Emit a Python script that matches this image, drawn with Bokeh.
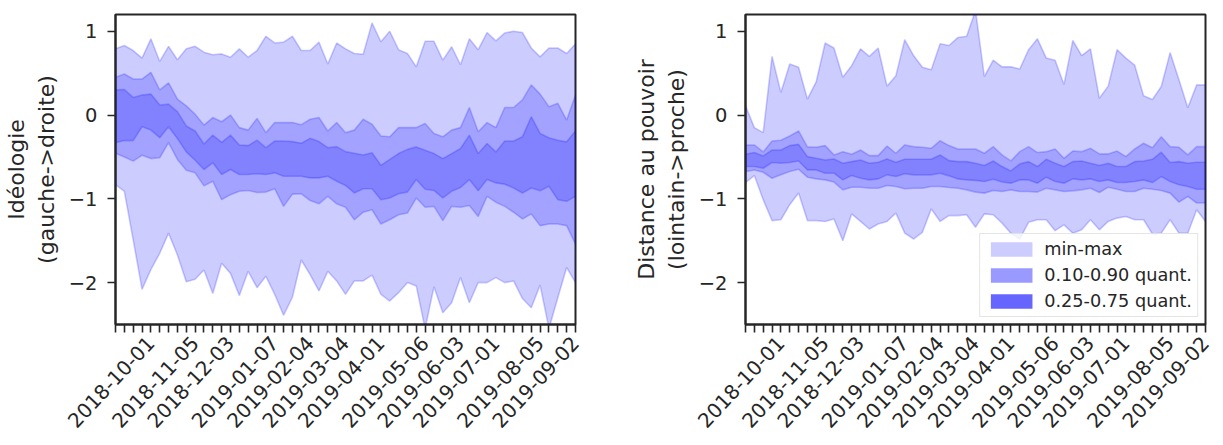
import math
from bokeh.plotting import figure
from bokeh.models import Range1d, FixedTicker, Legend, LegendItem, ColumnDataSource
from bokeh.layouts import row
from bokeh.embed import file_html
from bokeh.resources import INLINE

weeks = [
    "2018-09-03", "2018-09-10", "2018-09-17", "2018-09-24", "2018-10-01", "2018-10-08",
    "2018-10-15", "2018-10-22", "2018-10-29", "2018-11-05", "2018-11-12", "2018-11-19",
    "2018-11-26", "2018-12-03", "2018-12-10", "2018-12-17", "2018-12-24", "2018-12-31",
    "2019-01-07", "2019-01-14", "2019-01-21", "2019-01-28", "2019-02-04", "2019-02-11",
    "2019-02-18", "2019-02-25", "2019-03-04", "2019-03-11", "2019-03-18", "2019-03-25",
    "2019-04-01", "2019-04-08", "2019-04-15", "2019-04-22", "2019-04-29", "2019-05-06",
    "2019-05-13", "2019-05-20", "2019-05-27", "2019-06-03", "2019-06-10", "2019-06-17",
    "2019-06-24", "2019-07-01", "2019-07-08", "2019-07-15", "2019-07-22", "2019-07-29",
    "2019-08-05", "2019-08-12", "2019-08-19", "2019-08-26", "2019-09-02",
]
tick_labels = ["2018-10-01", "2018-11-05", "2018-12-03", "2019-01-07", "2019-02-04",
               "2019-03-04", "2019-04-01", "2019-05-06", "2019-06-03", "2019-07-01",
               "2019-08-05", "2019-09-02"]

# --- Idéologie (left panel)
ideo_min = [-0.83, -0.91, -1.49, -2.08, -1.845, -1.65, -1.41, -1.67, -1.99, -1.96,
            -1.85, -2.13, -1.77, -1.89, -2.155, -1.865, -2.06, -1.925, -2.14, -2.39,
            -2.175, -1.73, -1.905, -2.10, -1.865, -1.98, -2.14, -1.98, -1.98, -1.91,
            -2.14, -2.22, -2.12, -2.00, -2.04, -2.55, -2.05, -2.36, -2.24, -1.94,
            -2.24, -2.00, -2.00, -1.94, -2.00, -1.98, -2.19, -2.30, -2.03, -2.55,
            -2.18, -1.82, -2.00]
ideo_q10 = [-0.456, -0.50, -0.55, -0.48, -0.52, -0.51, -0.33, -0.53, -0.66, -0.69,
            -0.845, -0.79, -1.01, -0.95, -0.91, -0.90, -0.925, -0.92, -0.88, -1.09,
            -0.944, -0.94, -1.02, -1.06, -0.97, -1.06, -1.10, -1.25, -1.16, -1.13,
            -1.30, -1.25, -1.19, -1.17, -0.99, -1.10, -1.09, -1.26, -1.09, -1.10,
            -1.08, -1.21, -0.97, -1.04, -1.09, -1.16, -1.24, -1.18, -1.32, -1.30,
            -1.30, -1.32, -1.54]
ideo_q25 = [-0.33, -0.305, -0.305, -0.14, -0.18, -0.27, -0.14, -0.28, -0.44, -0.54,
            -0.65, -0.57, -0.71, -0.65, -0.71, -0.71, -0.70, -0.71, -0.69, -0.73,
            -0.73, -0.73, -0.75, -0.75, -0.73, -0.79, -0.84, -0.93, -0.88, -0.88,
            -1.01, -0.99, -0.94, -0.92, -0.77, -0.885, -0.90, -0.99, -0.91, -0.865,
            -0.77, -0.905, -0.77, -0.81, -0.825, -0.87, -0.93, -0.87, -0.905, -0.85,
            -1.01, -1.03, -0.97]
ideo_q75 = [0.30, 0.305, 0.21, 0.24, 0.25, 0.12, 0.13, 0.04, -0.13, -0.19,
            -0.345, -0.24, -0.325, -0.24, -0.357, -0.365, -0.30, -0.39, -0.31, -0.31,
            -0.317, -0.337, -0.278, -0.317, -0.39, -0.377, -0.437, -0.456, -0.476, -0.45,
            -0.60, -0.53, -0.46, -0.41, -0.38, -0.42, -0.46, -0.52, -0.46, -0.40,
            -0.24, -0.46, -0.34, -0.44, -0.31, -0.31, -0.26, -0.02, -0.22, -0.27,
            -0.30, -0.32, -0.19]
ideo_q90 = [0.45, 0.49, 0.43, 0.43, 0.51, 0.30, 0.385, 0.19, 0.11, 0.01,
            -0.12, -0.03, -0.08, 0.0, -0.15, -0.18, -0.04, -0.21, -0.09, -0.09,
            -0.09, -0.115, -0.05, -0.03, -0.19, -0.09, -0.21, -0.18, -0.05, -0.11,
            -0.25, -0.26, -0.15, -0.15, -0.15, -0.10, -0.22, -0.26, -0.18, -0.15,
            0.09, -0.20, -0.09, -0.15, 0.09, 0.09, 0.18, 0.36, 0.25, 0.10,
            0.14, -0.06, 0.24]
ideo_max = [0.79, 0.83, 0.77, 0.68, 0.91, 0.64, 0.82, 0.66, 0.79, 0.82,
            0.75, 0.72, 0.73, 0.69, 0.79, 0.69, 0.77, 0.94, 0.86, 0.87,
            0.94, 0.77, 0.77, 0.87, 0.61, 0.86, 0.79, 0.735, 0.725, 1.10,
            0.875, 1.00, 0.78, 0.735, 0.575, 0.88, 0.88, 0.655, 0.815, 0.60,
            0.91, 0.78, 0.985, 0.885, 0.98, 1.00, 0.985, 0.80, 0.695, 0.80,
            0.80, 0.735, 0.85]

# --- Distance au pouvoir (right panel)
dist_min = [-0.806, -0.722, -1.01, -1.26, -1.25, -1.07, -0.93, -1.26, -1.26, -1.27,
            -1.24, -1.50, -1.18, -1.27, -1.36, -1.30, -1.27, -1.17, -1.41, -1.48,
            -1.40, -1.12, -1.27, -1.20, -1.20, -1.19, -1.34, -1.18, -1.19, -1.29,
            -1.41, -1.48, -1.28, -1.25, -1.25, -1.38, -1.31, -1.41, -1.37, -1.25,
            -1.37, -1.27, -1.23, -1.21, -1.25, -1.25, -1.42, -1.41, -1.25, -1.41,
            -1.41, -1.13, -1.27]
dist_q10 = [-0.675, -0.655, -0.683, -0.754, -0.714, -0.675, -0.647, -0.742, -0.762, -0.774,
            -0.80, -0.893, -0.861, -0.861, -0.873, -0.873, -0.841, -0.853, -0.88, -0.873,
            -0.873, -0.853, -0.853, -0.865, -0.873, -0.893, -0.92, -0.932, -0.90, -0.913,
            -0.893, -0.913, -0.913, -0.92, -0.873, -0.893, -0.913, -0.905, -0.893, -0.873,
            -0.925, -0.861, -0.885, -0.913, -0.913, -0.873, -0.885, -0.90, -0.932, -1.04,
            -0.972, -1.05, -1.05]
dist_q25 = [-0.615, -0.615, -0.635, -0.567, -0.575, -0.567, -0.548, -0.655, -0.655, -0.694,
            -0.694, -0.774, -0.722, -0.754, -0.774, -0.762, -0.714, -0.734, -0.70, -0.714,
            -0.714, -0.714, -0.694, -0.726, -0.762, -0.774, -0.78, -0.794, -0.766, -0.80,
            -0.813, -0.774, -0.774, -0.813, -0.742, -0.794, -0.813, -0.762, -0.774, -0.762,
            -0.794, -0.774, -0.806, -0.806, -0.794, -0.774, -0.806, -0.734, -0.794, -0.833,
            -0.853, -0.885, -0.885]
dist_q75 = [-0.468, -0.448, -0.488, -0.417, -0.417, -0.365, -0.35, -0.496, -0.516, -0.536,
            -0.524, -0.575, -0.556, -0.536, -0.575, -0.563, -0.524, -0.563, -0.528, -0.528,
            -0.528, -0.528, -0.476, -0.544, -0.556, -0.556, -0.575, -0.603, -0.548, -0.615,
            -0.667, -0.583, -0.556, -0.615, -0.528, -0.575, -0.615, -0.556, -0.548, -0.575,
            -0.603, -0.575, -0.615, -0.615, -0.556, -0.548, -0.528, -0.444, -0.567, -0.556,
            -0.575, -0.563, -0.563]
dist_q90 = [-0.357, -0.357, -0.44, -0.31, -0.30, -0.25, -0.19, -0.38, -0.385, -0.365,
            -0.476, -0.437, -0.468, -0.417, -0.484, -0.484, -0.37, -0.456, -0.357, -0.377,
            -0.385, -0.397, -0.306, -0.365, -0.405, -0.405, -0.405, -0.456, -0.377, -0.476,
            -0.548, -0.437, -0.377, -0.448, -0.437, -0.405, -0.516, -0.43, -0.437, -0.397,
            -0.464, -0.464, -0.43, -0.496, -0.405, -0.337, -0.39, -0.258, -0.377, -0.385,
            -0.476, -0.377, -0.377]
dist_max = [0.11, -0.15, -0.21, 0.70, 0.27, 0.61, 0.57, 0.19, 0.40, 0.86,
            0.80, 0.45, 0.59, 0.79, 0.70, 0.80, 0.345, 0.47, 0.90, 0.71,
            0.57, 0.54, 0.85, 0.83, 0.925, 0.94, 1.25, 0.46, 0.655, 0.575,
            0.575, 0.55, 0.78, 0.91, 0.68, 0.655, 0.365, 0.89, 0.71, 0.79,
            0.20, 0.345, 0.78, 0.68, 0.595, 0.23, 0.185, 0.34, 0.745, 0.42,
            0.087, 0.36, 0.36]

legend_labels = ["min-max", "0.10-0.90 quant.", "0.25-0.75 quant."]
legend_alphas = [0.2, 0.4, 0.6]

FONT = "DejaVu Sans"
INK = "#262626"
NAN = float("nan")


def panel(ylabel, mn, q10, q25, q75, q90, mx, width, bl, br, with_legend):
    n = len(weeks)
    p = figure(width=width, height=445, output_backend="svg", toolbar_location=None,
               x_range=Range1d(0, n - 1), y_range=Range1d(-2.5, 1.2),
               min_border_left=bl, min_border_right=br, min_border_top=14,
               min_border_bottom=121)
    src = ColumnDataSource(dict(x=list(range(n)), mn=mn, q10=q10, q25=q25,
                                q75=q75, q90=q90, mx=mx))
    for lo, hi in [("mn", "mx"), ("q10", "q90"), ("q25", "q75")]:
        p.varea(x="x", y1=lo, y2=hi, source=src, fill_color="blue", fill_alpha=0.2)
        for col in (lo, hi):
            p.line(x="x", y=col, source=src, line_color="blue", line_alpha=0.2,
                   line_width=1.6)

    p.grid.visible = False
    p.outline_line_color = INK
    p.outline_line_width = 2
    p.outline_line_alpha = 1
    p.background_fill_color = "white"

    for ax in (p.xaxis[0], p.yaxis[0]):
        ax.axis_line_color = INK
        ax.axis_line_width = 2
        ax.major_tick_line_color = INK
        ax.major_tick_line_width = 1.6
        ax.major_tick_out = 8
        ax.major_tick_in = 0
        ax.minor_tick_out = 0
        ax.minor_tick_in = 0
        ax.major_label_text_font = FONT
        ax.major_label_text_font_size = "19.5px"
        ax.major_label_text_color = INK
        ax.axis_label_text_font = FONT
        ax.axis_label_text_font_size = "22px"
        ax.axis_label_text_font_style = "normal"
        ax.axis_label_text_color = INK

    xa = p.xaxis[0]
    xa.ticker = FixedTicker(ticks=list(range(n)))
    xa.major_label_overrides = {i: (w if w in tick_labels else "") for i, w in enumerate(weeks)}
    xa.major_label_orientation = math.radians(47)
    xa.major_label_text_font_size = "20px"
    xa.major_label_standoff = 7

    ya = p.yaxis[0]
    ya.ticker = FixedTicker(ticks=[-2, -1, 0, 1])
    ya.major_label_overrides = {-2: "\u22122", -1: "\u22121", 0: "0", 1: "1"}
    ya.major_label_standoff = 10
    ya.axis_label = ylabel
    ya.axis_label_standoff = 7

    if with_legend:
        items = []
        for lab, a in zip(legend_labels, legend_alphas):
            dummy = ColumnDataSource(dict(l=[NAN], r=[NAN], t=[NAN], b=[NAN]))
            rr = p.quad(left="l", right="r", top="t", bottom="b", source=dummy,
                        fill_color="blue", fill_alpha=a, line_color=None)
            items.append(LegendItem(label=lab, renderers=[rr]))
        lg = Legend(items=items, location="bottom_right")
        lg.label_text_font = FONT
        lg.label_text_font_size = "17.7px"
        lg.label_text_color = INK
        lg.glyph_width = 52
        lg.glyph_height = 18
        lg.label_height = 18
        lg.spacing = 6
        lg.padding = 5
        lg.margin = 7
        lg.label_standoff = 7
        lg.border_line_color = "#cccccc"
        lg.border_line_width = 1.5
        lg.background_fill_alpha = 0.8
        p.add_layout(lg)
    return p


p1 = panel("Idéologie\n(gauche->droite)", ideo_min, ideo_q10, ideo_q25, ideo_q75,
           ideo_q90, ideo_max, 608, 115, 33, False)
p2 = panel("Distance au pouvoir\n(lointain->proche)", dist_min, dist_q10, dist_q25,
           dist_q75, dist_q90, dist_max, 615, 137, 18, True)

layout = row(p1, p2)
open("out.html", "w").write(file_html(layout, INLINE))
